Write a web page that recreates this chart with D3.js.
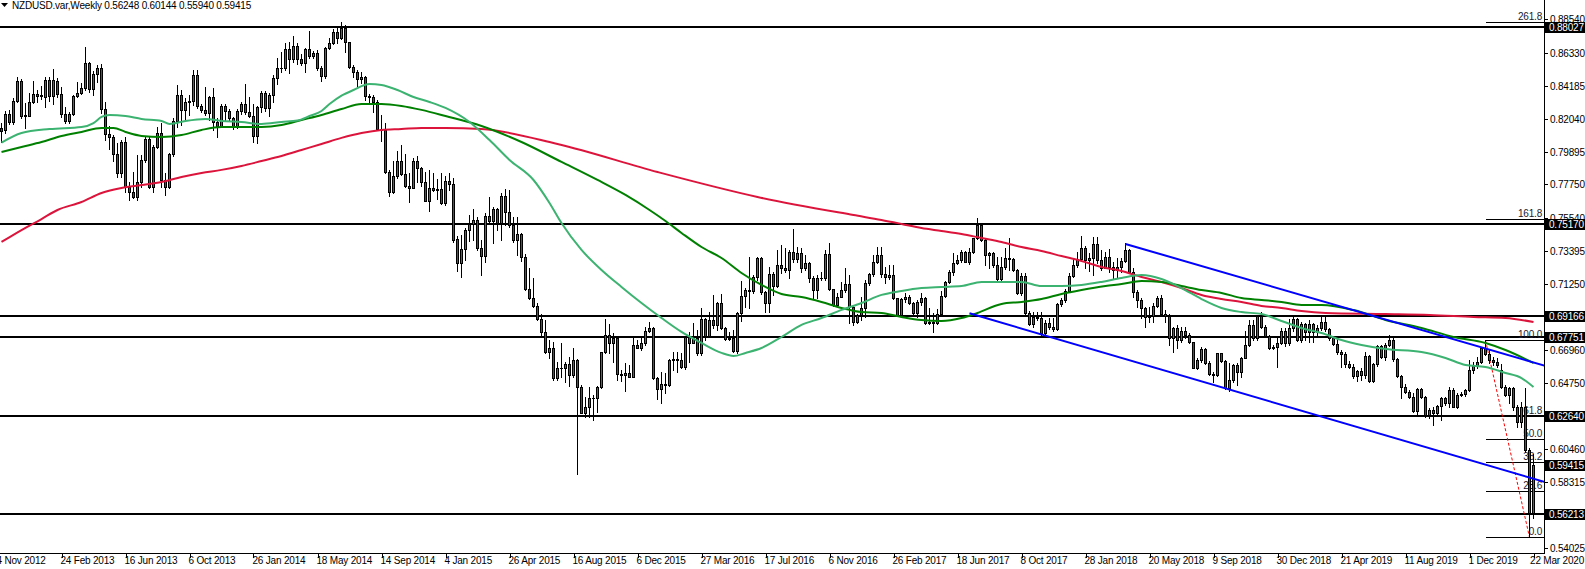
<!DOCTYPE html>
<html><head><meta charset="utf-8">
<script src="https://cdn.jsdelivr.net/npm/d3@7"></script>
<style>
body{margin:0;background:#fff;overflow:hidden}
svg{display:block}
text{font-family:"Liberation Sans",Arial,sans-serif;font-size:10px;letter-spacing:-0.2px}
</style>
</head><body>
<svg id="c" width="1585" height="569"></svg>
<script>
// ---------- DATA (weekly NZDUSD, bar 0 = week of 11 Nov 2012) ----------
const symbolTitle = "NZDUSD.var,Weekly";
const opens = [
0.8144,0.8131,0.8235,0.8185,0.8322,0.8451,0.8224,0.8224,0.8311,0.8363,
0.8355,0.8348,0.8457,0.8355,0.8451,0.8363,0.8233,0.8189,0.8233,0.8353,
0.8374,0.8403,0.8566,0.8396,0.8494,0.8533,0.8265,0.8102,0.8087,0.7974,
0.7847,0.8050,0.7760,0.7727,0.7695,0.7793,0.7934,0.8071,0.7760,0.8022,
0.8109,0.7804,0.7760,0.7974,0.8192,0.8359,0.8261,0.8316,0.8322,0.8490,
0.8287,0.8261,0.8240,0.8348,0.8185,0.8159,0.8290,0.8257,0.8207,0.8157,
0.8257,0.8299,0.8246,0.8225,0.8094,0.8279,0.8371,0.8272,0.8360,0.8473,
0.8534,0.8538,0.8660,0.8593,0.8680,0.8593,0.8571,0.8660,0.8617,0.8632,
0.8538,0.8486,0.8664,0.8697,0.8769,0.8730,0.8800,0.8704,0.8545,0.8508,
0.8462,0.8477,0.8351,0.8347,0.8312,0.8137,0.8131,0.7859,0.7724,0.7828,
0.7928,0.7846,0.7767,0.7754,0.7928,0.7885,0.7789,0.7669,0.7750,0.7741,
0.7745,0.7656,0.7795,0.7780,0.7416,0.7259,0.7353,0.7477,0.7517,0.7543,
0.7358,0.7307,0.7569,0.7538,0.7612,0.7521,0.7699,0.7597,0.7510,0.7412,
0.7451,0.7299,0.7090,0.7031,0.6981,0.6894,0.6813,0.6682,0.6704,0.6508,
0.6576,0.6573,0.6602,0.6530,0.6628,0.6454,0.6284,0.6319,0.6377,0.6382,
0.6454,0.6678,0.6791,0.6741,0.6769,0.6534,0.6530,0.6541,0.6519,0.6726,
0.6708,0.6737,0.6820,0.6837,0.6508,0.6436,0.6471,0.6466,0.6628,0.6634,
0.6628,0.6584,0.6780,0.6737,0.6769,0.6672,0.6896,0.6787,0.6889,0.6857,
0.6998,0.6835,0.6765,0.6769,0.6687,0.6933,0.7046,0.7085,0.7079,0.7172,
0.7297,0.7070,0.6998,0.7188,0.7114,0.7249,0.7227,0.7216,0.7331,0.7289,
0.7325,0.7227,0.7260,0.7166,0.7085,0.7166,0.7162,0.7318,0.7090,0.6987,
0.7042,0.7085,0.7122,0.6976,0.6874,0.6922,0.6966,0.7129,0.7188,0.7266,
0.7314,0.7188,0.7172,0.7183,0.7031,0.6922,0.7027,0.7042,0.6998,0.6933,
0.7009,0.7035,0.6867,0.6878,0.6867,0.6926,0.7048,0.7136,0.7205,0.7260,
0.7282,0.7331,0.7271,0.7336,0.7423,0.7510,0.7412,0.7314,0.7325,0.7249,
0.7157,0.7238,0.7292,0.7288,0.7216,0.7064,0.7179,0.6933,0.6861,0.6911,
0.6904,0.6802,0.6867,0.6845,0.6830,0.6992,0.7020,0.7079,0.7179,0.7249,
0.7288,0.7362,0.7282,0.7292,0.7384,0.7281,0.7231,0.7303,0.7238,0.7216,
0.7238,0.7275,0.7347,0.7205,0.7074,0.7020,0.6965,0.6911,0.6915,0.6981,
0.7035,0.6926,0.6918,0.6770,0.6835,0.6759,0.6817,0.6791,0.6743,0.6578,
0.6628,0.6700,0.6606,0.6534,0.6530,0.6672,0.6622,0.6443,0.6497,0.6595,
0.6552,0.6643,0.6726,0.6857,0.6770,0.6917,0.6845,0.6787,0.6708,0.6712,
0.6737,0.6817,0.6737,0.6835,0.6893,0.6759,0.6861,0.6813,0.6861,0.6813,
0.6839,0.6874,0.6828,0.6770,0.6733,0.6682,0.6667,0.6602,0.6584,0.6523,
0.6556,0.6527,0.6654,0.6493,0.6602,0.6719,0.6650,0.6726,0.6759,0.6632,
0.6523,0.6454,0.6421,0.6388,0.6297,0.6436,0.6388,0.6269,0.6301,0.6280,
0.6327,0.6377,0.6349,0.6432,0.6323,0.6399,0.6406,0.6432,0.6563,0.6589,
0.6617,0.6704,0.6667,0.6628,0.6617,0.6563,0.6454,0.6399,0.6443,0.6319,
0.6225,0.6323,0.6040,0.56248];
const highs = [
0.8174,0.8252,0.8261,0.8337,0.8479,0.8461,0.8309,0.8374,0.8453,0.8392,
0.8420,0.8479,0.8479,0.8527,0.8468,0.8413,0.8283,0.8246,0.8357,0.8446,
0.8440,0.8671,0.8573,0.8518,0.8555,0.8560,0.8315,0.8156,0.8098,0.8043,
0.8065,0.8087,0.7793,0.7858,0.7967,0.7967,0.8082,0.8087,0.8032,0.8152,
0.8174,0.7847,0.7982,0.8207,0.8425,0.8392,0.8338,0.8359,0.8523,0.8523,
0.8300,0.8409,0.8353,0.8403,0.8207,0.8300,0.8299,0.8266,0.8218,0.8266,
0.8312,0.8429,0.8344,0.8299,0.8290,0.8386,0.8386,0.8371,0.8490,0.8599,
0.8643,0.8697,0.8708,0.8745,0.8697,0.8625,0.8669,0.8778,0.8647,0.8654,
0.8551,0.8675,0.8730,0.8791,0.8795,0.8839,0.8817,0.8708,0.8556,0.8523,
0.8512,0.8486,0.8364,0.8360,0.8327,0.8229,0.8174,0.7870,0.7928,0.7994,
0.8033,0.7972,0.7848,0.7946,0.7961,0.7891,0.7854,0.7870,0.7848,0.7809,
0.7848,0.7830,0.7850,0.7820,0.7438,0.7445,0.7488,0.7575,0.7612,0.7564,
0.7412,0.7586,0.7695,0.7625,0.7619,0.7721,0.7743,0.7739,0.7560,0.7560,
0.7460,0.7321,0.7227,0.7162,0.6998,0.6928,0.6889,0.6759,0.6748,0.6617,
0.6737,0.6617,0.6650,0.6704,0.6632,0.6465,0.6388,0.6454,0.6399,0.6458,
0.6682,0.6894,0.6863,0.6802,0.6780,0.6563,0.6610,0.6595,0.6785,0.6759,
0.6780,0.6841,0.6878,0.6841,0.6519,0.6552,0.6540,0.6634,0.6678,0.6682,
0.6672,0.6787,0.6813,0.6867,0.6824,0.6966,0.6904,0.6944,0.7053,0.7005,
0.7057,0.6846,0.6813,0.6824,0.6940,0.7144,0.7101,0.7303,0.7183,0.7303,
0.7303,0.7079,0.7238,0.7205,0.7347,0.7379,0.7357,0.7347,0.7484,0.7366,
0.7362,0.7314,0.7271,0.7177,0.7183,0.7205,0.7347,0.7390,0.7092,0.7064,
0.7140,0.7231,0.7183,0.6987,0.6926,0.7042,0.7151,0.7194,0.7314,0.7368,
0.7368,0.7238,0.7249,0.7249,0.7035,0.7031,0.7064,0.7053,0.7009,0.7020,
0.7064,0.7042,0.6966,0.6933,0.6961,0.7079,0.7144,0.7216,0.7325,0.7314,
0.7347,0.7340,0.7358,0.7427,0.7553,0.7521,0.7420,0.7336,0.7336,0.7303,
0.7303,0.7362,0.7427,0.7297,0.7223,0.7194,0.7194,0.6948,0.6940,0.6944,
0.6940,0.6889,0.6900,0.6900,0.6998,0.7031,0.7092,0.7194,0.7288,0.7336,
0.7440,0.7375,0.7330,0.7433,0.7433,0.7347,0.7336,0.7353,0.7266,0.7292,
0.7292,0.7390,0.7353,0.7227,0.7085,0.7031,0.6976,0.6976,0.6998,0.7048,
0.7053,0.6955,0.6926,0.6846,0.6857,0.6846,0.6846,0.6802,0.6748,0.6639,
0.6715,0.6704,0.6621,0.6552,0.6676,0.6676,0.6628,0.6606,0.6600,0.6606,
0.6650,0.6817,0.6889,0.6889,0.6922,0.6944,0.6857,0.6791,0.6726,0.6769,
0.6835,0.6835,0.6896,0.6922,0.6900,0.6878,0.6867,0.6889,0.6867,0.6857,
0.6911,0.6911,0.6835,0.6781,0.6769,0.6693,0.6682,0.6624,0.6602,0.6562,
0.6573,0.6682,0.6660,0.6610,0.6726,0.6726,0.6737,0.6791,0.6785,0.6639,
0.6530,0.6471,0.6432,0.6410,0.6443,0.6443,0.6392,0.6312,0.6323,0.6334,
0.6388,0.6388,0.6454,0.6443,0.6410,0.6421,0.6438,0.6628,0.6617,0.6650,
0.6711,0.6756,0.6693,0.6650,0.6640,0.6600,0.6465,0.6454,0.6454,0.6334,
0.6356,0.6443,0.6051,0.60144];
const lows = [
0.8054,0.8109,0.8170,0.8170,0.8315,0.8206,0.8146,0.8222,0.8305,0.8315,
0.8333,0.8279,0.8322,0.8300,0.8348,0.8213,0.8178,0.8174,0.8226,0.8348,
0.8366,0.8392,0.8381,0.8359,0.8446,0.8244,0.8065,0.8004,0.7930,0.7825,
0.7825,0.7727,0.7673,0.7684,0.7673,0.7760,0.7923,0.7749,0.7727,0.8011,
0.7760,0.7706,0.7749,0.7960,0.8152,0.8163,0.8196,0.8228,0.8294,0.8272,
0.8250,0.8228,0.8196,0.8131,0.8083,0.8152,0.8190,0.8190,0.8137,0.8142,
0.8236,0.8236,0.8218,0.8055,0.8048,0.8251,0.8257,0.8225,0.8316,0.8429,
0.8512,0.8523,0.8506,0.8573,0.8560,0.8556,0.8512,0.8604,0.8604,0.8523,
0.8451,0.8473,0.8660,0.8691,0.8697,0.8723,0.8643,0.8534,0.8480,0.8414,
0.8436,0.8327,0.8312,0.8251,0.8131,0.8059,0.7848,0.7702,0.7717,0.7819,
0.7837,0.7761,0.7658,0.7750,0.7793,0.7765,0.7667,0.7602,0.7732,0.7678,
0.7645,0.7640,0.7740,0.7400,0.7212,0.7172,0.7281,0.7408,0.7412,0.7347,
0.7183,0.7270,0.7525,0.7390,0.7477,0.7412,0.7510,0.7499,0.7401,0.7314,
0.7277,0.7085,0.7024,0.6976,0.6889,0.6780,0.6671,0.6639,0.6497,0.6497,
0.6519,0.6486,0.6458,0.6519,0.5880,0.6279,0.6253,0.6253,0.6236,0.6290,
0.6443,0.6671,0.6671,0.6617,0.6497,0.6493,0.6428,0.6515,0.6515,0.6704,
0.6693,0.6726,0.6813,0.6502,0.6371,0.6345,0.6414,0.6460,0.6562,0.6552,
0.6573,0.6569,0.6617,0.6736,0.6661,0.6661,0.6759,0.6780,0.6835,0.6824,
0.6828,0.6759,0.6759,0.6682,0.6671,0.6883,0.6976,0.6966,0.7064,0.7151,
0.7057,0.6944,0.6944,0.7053,0.7107,0.7194,0.7205,0.7162,0.7271,0.7268,
0.7205,0.7216,0.7140,0.7027,0.7031,0.7151,0.7151,0.7085,0.6983,0.6983,
0.7038,0.7070,0.6867,0.6857,0.6867,0.6889,0.6911,0.7118,0.7179,0.7260,
0.7172,0.7129,0.7157,0.7027,0.6918,0.6911,0.7009,0.6992,0.6922,0.6911,
0.6987,0.6861,0.6861,0.6813,0.6861,0.6918,0.7042,0.7129,0.7183,0.7253,
0.7271,0.7266,0.7253,0.7330,0.7416,0.7405,0.7249,0.7227,0.7238,0.7151,
0.7151,0.7223,0.7216,0.7209,0.7057,0.7053,0.6926,0.6857,0.6846,0.6889,
0.6780,0.6787,0.6830,0.6817,0.6824,0.6983,0.7009,0.7070,0.7172,0.7238,
0.7275,0.7227,0.7210,0.7183,0.7260,0.7216,0.7227,0.7205,0.7162,0.7162,
0.7205,0.7266,0.7194,0.7042,0.6976,0.6900,0.6846,0.6878,0.6878,0.6976,
0.6922,0.6878,0.6726,0.6682,0.6704,0.6748,0.6770,0.6737,0.6573,0.6569,
0.6613,0.6600,0.6530,0.6486,0.6523,0.6617,0.6438,0.6425,0.6486,0.6464,
0.6519,0.6639,0.6722,0.6759,0.6759,0.6839,0.6780,0.6700,0.6700,0.6584,
0.6730,0.6722,0.6726,0.6817,0.6752,0.6748,0.6759,0.6748,0.6748,0.6780,
0.6824,0.6817,0.6759,0.6726,0.6667,0.6580,0.6580,0.6573,0.6508,0.6493,
0.6497,0.6508,0.6486,0.6486,0.6589,0.6639,0.6628,0.6719,0.6624,0.6515,
0.6377,0.6410,0.6377,0.6290,0.6269,0.6377,0.6258,0.6247,0.6204,0.6275,
0.6236,0.6334,0.6323,0.6319,0.6316,0.6392,0.6392,0.6428,0.6545,0.6573,
0.6606,0.6660,0.6606,0.6595,0.6580,0.6443,0.6392,0.6345,0.6301,0.6192,
0.6192,0.6029,0.5469,0.55940];
const closes = [
0.8126,0.8235,0.8185,0.8320,0.8451,0.8224,0.8228,0.8311,0.8363,0.8355,
0.8361,0.8457,0.8355,0.8457,0.8363,0.8233,0.8189,0.8233,0.8353,0.8374,
0.8403,0.8566,0.8396,0.8494,0.8533,0.8265,0.8102,0.8087,0.7974,0.7847,
0.8050,0.7760,0.7727,0.7695,0.7793,0.7934,0.8071,0.7760,0.8022,0.8109,
0.7804,0.7760,0.7974,0.8192,0.8359,0.8261,0.8316,0.8322,0.8490,0.8287,
0.8261,0.8240,0.8348,0.8185,0.8159,0.8287,0.8257,0.8207,0.8157,0.8257,
0.8299,0.8246,0.8225,0.8094,0.8279,0.8371,0.8272,0.8360,0.8473,0.8534,
0.8538,0.8660,0.8593,0.8680,0.8593,0.8571,0.8660,0.8617,0.8632,0.8538,
0.8486,0.8664,0.8697,0.8769,0.8730,0.8800,0.8704,0.8545,0.8508,0.8462,
0.8477,0.8351,0.8347,0.8312,0.8137,0.8131,0.7859,0.7724,0.7828,0.7928,
0.7846,0.7767,0.7754,0.7928,0.7885,0.7789,0.7669,0.7750,0.7741,0.7745,
0.7656,0.7795,0.7780,0.7412,0.7259,0.7353,0.7477,0.7517,0.7543,0.7358,
0.7307,0.7569,0.7538,0.7612,0.7521,0.7699,0.7597,0.7510,0.7412,0.7451,
0.7299,0.7090,0.7031,0.6981,0.6894,0.6813,0.6682,0.6704,0.6508,0.6573,
0.6573,0.6602,0.6530,0.6628,0.6454,0.6284,0.6319,0.6377,0.6382,0.6454,
0.6678,0.6791,0.6741,0.6769,0.6534,0.6530,0.6541,0.6519,0.6726,0.6708,
0.6737,0.6820,0.6837,0.6508,0.6436,0.6471,0.6466,0.6628,0.6634,0.6628,
0.6584,0.6780,0.6737,0.6769,0.6672,0.6896,0.6787,0.6889,0.6857,0.6998,
0.6835,0.6765,0.6769,0.6687,0.6933,0.7046,0.7085,0.7079,0.7172,0.7297,
0.7070,0.6998,0.7188,0.7114,0.7249,0.7227,0.7216,0.7331,0.7289,0.7325,
0.7227,0.7260,0.7166,0.7085,0.7166,0.7162,0.7318,0.7090,0.6987,0.7042,
0.7085,0.7122,0.6976,0.6874,0.6922,0.6966,0.7129,0.7188,0.7266,0.7314,
0.7188,0.7172,0.7183,0.7031,0.6922,0.7027,0.7042,0.6998,0.6933,0.7009,
0.7035,0.6867,0.6878,0.6867,0.6926,0.7048,0.7136,0.7205,0.7260,0.7282,
0.7331,0.7271,0.7336,0.7423,0.7510,0.7412,0.7314,0.7325,0.7249,0.7157,
0.7238,0.7292,0.7288,0.7216,0.7064,0.7179,0.6933,0.6861,0.6911,0.6904,
0.6802,0.6867,0.6845,0.6830,0.6992,0.7020,0.7079,0.7179,0.7249,0.7288,
0.7362,0.7282,0.7292,0.7384,0.7281,0.7231,0.7303,0.7238,0.7216,0.7238,
0.7275,0.7347,0.7205,0.7074,0.7020,0.6965,0.6911,0.6915,0.6981,0.7035,
0.6926,0.6918,0.6770,0.6835,0.6759,0.6817,0.6791,0.6743,0.6578,0.6628,
0.6700,0.6606,0.6534,0.6530,0.6672,0.6622,0.6443,0.6497,0.6595,0.6552,
0.6643,0.6726,0.6857,0.6770,0.6917,0.6845,0.6787,0.6708,0.6712,0.6737,
0.6817,0.6737,0.6835,0.6893,0.6759,0.6861,0.6813,0.6861,0.6813,0.6839,
0.6874,0.6828,0.6770,0.6733,0.6682,0.6667,0.6602,0.6584,0.6523,0.6556,
0.6527,0.6654,0.6493,0.6602,0.6719,0.6650,0.6726,0.6759,0.6632,0.6523,
0.6454,0.6421,0.6388,0.6297,0.6436,0.6388,0.6269,0.6301,0.6280,0.6327,
0.6377,0.6349,0.6432,0.6323,0.6399,0.6406,0.6432,0.6563,0.6589,0.6617,
0.6704,0.6667,0.6628,0.6617,0.6595,0.6454,0.6399,0.6443,0.6319,0.6225,
0.6323,0.6040,0.5625,0.59415];

// moving averages: [bar, price]
const maFast = [[0,0.8048],[5,0.8111],[12,0.8137],[20,0.8150],[23,0.8176],[25,0.8216],[27,0.8229],[31,0.8222],[35,0.8203],[40,0.8190],[42,0.8170],[46,0.8190],[51,0.8203],[55,0.8190],[60,0.8183],[65,0.8170],[70,0.8183],[74,0.8192],[77,0.8222],[80,0.8255],[82,0.8300],[85,0.8355],[88,0.8392],[92,0.8431],[95,0.8425],[99,0.8392],[103,0.8346],[107,0.8314],[111,0.8275],[117,0.8183],[122,0.8065],[127,0.7935],[133,0.7804],[137,0.7654],[140,0.7523],[145,0.7347],[150,0.7216],[155,0.7105],[160,0.7000],[165,0.6902],[170,0.6811],[175,0.6739],[180,0.6674],[183,0.6654],[186,0.6674],[190,0.6706],[195,0.6778],[200,0.6857],[205,0.6902],[210,0.6955],[215,0.7000],[220,0.7053],[225,0.7079],[230,0.7098],[235,0.7105],[240,0.7111],[245,0.7138],[250,0.7138],[255,0.7138],[260,0.7111],[265,0.7111],[270,0.7118],[275,0.7138],[280,0.7164],[285,0.7183],[290,0.7157],[295,0.7098],[300,0.7026],[305,0.6968],[310,0.6941],[315,0.6928],[320,0.6883],[325,0.6837],[330,0.6804],[335,0.6758],[340,0.6726],[346,0.6700],[355,0.6680],[361,0.6641],[366,0.6595],[371,0.6582],[376,0.6543],[380,0.6510],[383,0.6451]];
const maMid = [[0,0.7987],[5,0.8020],[10,0.8052],[15,0.8092],[20,0.8118],[25,0.8144],[28,0.8144],[31,0.8118],[35,0.8092],[40,0.8085],[45,0.8098],[50,0.8131],[55,0.8150],[65,0.8150],[70,0.8163],[75,0.8196],[80,0.8229],[85,0.8268],[90,0.8301],[95,0.8301],[100,0.8288],[105,0.8262],[111,0.8222],[120,0.8157],[130,0.8052],[140,0.7922],[149,0.7804],[156,0.7706],[162,0.7608],[166,0.7536],[170,0.7458],[175,0.7366],[180,0.7294],[185,0.7196],[190,0.7118],[195,0.7059],[200,0.7039],[205,0.7007],[210,0.6968],[215,0.6941],[220,0.6935],[225,0.6909],[230,0.6889],[235,0.6883],[240,0.6902],[244,0.6935],[250,0.6994],[255,0.7007],[260,0.7026],[265,0.7059],[270,0.7085],[276,0.7111],[280,0.7124],[285,0.7144],[290,0.7137],[295,0.7111],[300,0.7085],[305,0.7066],[310,0.7033],[315,0.7020],[320,0.7007],[325,0.6987],[330,0.6987],[338,0.6954],[346,0.6889],[355,0.6837],[363,0.6778],[371,0.6739],[376,0.6693],[381,0.6634],[383,0.6608]];
const maSlow = [[0,0.7399],[5,0.7477],[10,0.7549],[14,0.7608],[20,0.7660],[25,0.7719],[30,0.7752],[35,0.7771],[40,0.7791],[45,0.7824],[50,0.7850],[55,0.7870],[60,0.7896],[65,0.7928],[70,0.7961],[75,0.8000],[80,0.8039],[85,0.8079],[90,0.8111],[95,0.8131],[100,0.8137],[105,0.8144],[111,0.8144],[120,0.8137],[139,0.8039],[164,0.7856],[189,0.7693],[213,0.7575],[220,0.7543],[225,0.7517],[230,0.7490],[235,0.7471],[240,0.7451],[245,0.7425],[250,0.7399],[255,0.7366],[260,0.7340],[265,0.7307],[270,0.7275],[275,0.7235],[280,0.7209],[285,0.7170],[290,0.7137],[295,0.7098],[300,0.7053],[305,0.7026],[310,0.7007],[315,0.6981],[320,0.6968],[325,0.6948],[331,0.6935],[346,0.6928],[357,0.6922],[368,0.6909],[376,0.6902],[383,0.6876]];

// drawn objects
const levelLines = [0.88027, 0.75170, 0.69166, 0.67751, 0.62640, 0.56213];
const lastPrice = 0.59415;
const trendUpper = [[281,0.7386],[386,0.6589]];
const trendLower = [[242,0.6933],[386,0.5829]];
const fiboFromBar = 371, fiboHigh = 0.6756, fiboToBar = 382, fiboLow = 0.5469;
const fiboLevels = [0, 23.6, 38.2, 50, 61.8, 100, 161.8, 261.8];

// axes
const priceTicks = [0.88540,0.86330,0.84185,0.82040,0.79895,0.77750,0.75540,0.73395,0.71250,0.69105,0.66960,0.64750,0.62605,0.60460,0.58315,0.56170,0.54025];
const dateLabels = ["4 Nov 2012","24 Feb 2013","16 Jun 2013","6 Oct 2013","26 Jan 2014","18 May 2014","14 Sep 2014","4 Jan 2015","26 Apr 2015","16 Aug 2015","6 Dec 2015","27 Mar 2016","17 Jul 2016","6 Nov 2016","26 Feb 2017","18 Jun 2017","8 Oct 2017","28 Jan 2018","20 May 2018","9 Sep 2018","30 Dec 2018","21 Apr 2019","11 Aug 2019","1 Dec 2019","22 Mar 2020"];
const firstLabelBar = -1, barsPerLabel = 16;

// ---------- DRAW ----------
const W = 1585, plotR = 1544, plotB = 553;
const svg = d3.select("#c");
const x = d3.scaleLinear().domain([0, 383]).range([1.5, 1533.5]);
const y = d3.scaleLinear().domain([0.54025, 0.8854]).range([547.5, 19.3]);
const ry = p => Math.round(y(p));

svg.append("defs").append("clipPath").attr("id","clip")
  .append("rect").attr("x",0).attr("y",0).attr("width",plotR).attr("height",plotB);

// background objects: level lines + fibo
const bg = svg.append("g").attr("clip-path","url(#clip)").attr("shape-rendering","crispEdges");
bg.selectAll("rect.lvl").data(levelLines).join("rect").attr("class","lvl")
  .attr("x",0).attr("width",plotR).attr("y",d=>ry(d)-1).attr("height",2).attr("fill","#000");

const fr = fiboHigh - fiboLow;
const fg = svg.append("g");
fg.selectAll("line.fib").data(fiboLevels).join("line").attr("class","fib")
  .attr("shape-rendering","crispEdges")
  .attr("x1",Math.round(x(fiboFromBar))).attr("x2",plotR)
  .attr("y1",d=>ry(fiboLow+fr*d/100)+0.5).attr("y2",d=>ry(fiboLow+fr*d/100)+0.5)
  .attr("stroke","#000").attr("stroke-width",1);
fg.selectAll("text.fib").data(fiboLevels).join("text").attr("class","fib")
  .attr("x",1542).attr("y",d=>ry(fiboLow+fr*d/100)-2).attr("text-anchor","end")
  .attr("fill","#1a1a2e").text(d=>d.toFixed(1));
fg.append("line")
  .attr("x1",x(fiboFromBar)).attr("y1",y(fiboHigh)).attr("x2",x(fiboToBar)).attr("y2",y(fiboLow))
  .attr("stroke","#ff0000").attr("stroke-width",1).attr("stroke-dasharray","3,2");

// candles
const bars = d3.range(closes.length).map(i=>({i,o:opens[i],h:highs[i],l:lows[i],c:closes[i]}));
const cg = svg.append("g").attr("clip-path","url(#clip)").attr("shape-rendering","crispEdges");
const bull = "#1f8b34", bear = "#b3282d";
const cand = cg.selectAll("g").data(bars).join("g");
cand.append("rect").attr("x",d=>Math.round(x(d.i)-0.5)).attr("width",1)
  .attr("y",d=>ry(d.h)).attr("height",d=>Math.max(1,ry(d.l)-ry(d.h)+1)).attr("fill","#000");
cand.append("rect").attr("x",d=>Math.round(x(d.i)-1.5)).attr("width",3)
  .attr("y",d=>ry(Math.max(d.o,d.c)))
  .attr("height",d=>ry(Math.min(d.o,d.c))-ry(Math.max(d.o,d.c))+1).attr("fill","#000");
cand.filter(d=>ry(Math.min(d.o,d.c))-ry(Math.max(d.o,d.c))>1).append("rect")
  .attr("x",d=>Math.round(x(d.i)-0.5)).attr("width",1)
  .attr("y",d=>ry(Math.max(d.o,d.c))+1)
  .attr("height",d=>ry(Math.min(d.o,d.c))-ry(Math.max(d.o,d.c))-1)
  .attr("fill",d=>d.c>=d.o?bull:bear);

// moving averages
const mg = svg.append("g").attr("clip-path","url(#clip)");
const maLine = d3.line().x(d=>x(d[0])).y(d=>y(d[1])).curve(d3.curveMonotoneX);
[[maSlow,"#dc143c"],[maMid,"#008000"],[maFast,"#3cb371"]].forEach(([data,col])=>{
  mg.append("path").attr("d",maLine(data)).attr("fill","none").attr("stroke",col).attr("stroke-width",2);
});

// trend channel
const tg = svg.append("g").attr("clip-path","url(#clip)");
[trendUpper,trendLower].forEach(t=>{
  tg.append("line").attr("x1",x(t[0][0])).attr("y1",y(t[0][1]))
    .attr("x2",x(t[1][0])).attr("y2",y(t[1][1]))
    .attr("stroke","#0000ff").attr("stroke-width",2);
});

// right price axis
const ax = svg.append("g").attr("shape-rendering","crispEdges");
ax.append("line").attr("x1",plotR+0.5).attr("x2",plotR+0.5).attr("y1",0).attr("y2",plotB+1).attr("stroke","#000");
ax.selectAll("line.pt").data(priceTicks).join("line").attr("class","pt")
  .attr("x1",plotR+1).attr("x2",plotR+4).attr("y1",d=>ry(d)+0.5).attr("y2",d=>ry(d)+0.5).attr("stroke","#000");
svg.selectAll("text.pt").data(priceTicks).join("text").attr("class","pt")
  .attr("x",plotR+6).attr("y",d=>ry(d)+3.5).attr("fill","#000").text(d=>d.toFixed(5));
const boxes = levelLines.concat([lastPrice]);
const bx = svg.selectAll("g.box").data(boxes).join("g").attr("class","box");
bx.append("rect").attr("x",plotR+1).attr("y",d=>ry(d)-5).attr("width",W-plotR-1).attr("height",11)
  .attr("fill","#000").attr("shape-rendering","crispEdges");
bx.append("text").attr("x",plotR+5).attr("y",d=>ry(d)+4).attr("fill","#fff").text(d=>d.toFixed(5));

// bottom time axis
ax.append("line").attr("x1",0).attr("x2",plotR+1).attr("y1",plotB+0.5).attr("y2",plotB+0.5).attr("stroke","#000");
const dl = dateLabels.map((t,k)=>({t,bar:firstLabelBar+k*barsPerLabel}));
ax.selectAll("line.dt").data(dl).join("line").attr("class","dt")
  .attr("x1",d=>Math.round(x(d.bar))+0.5).attr("x2",d=>Math.round(x(d.bar))+0.5)
  .attr("y1",plotB+1).attr("y2",plotB+5).attr("stroke","#000");
svg.selectAll("text.dt").data(dl).join("text").attr("class","dt")
  .attr("x",d=>x(d.bar)-1).attr("y",plotB+11).attr("fill","#000").text(d=>d.t)
  .each(function(){
    const len = this.getComputedTextLength();
    const x0 = +this.getAttribute("x");
    if (x0 + len > W - 1) this.setAttribute("x", W - 1 - len);
  });

// header
svg.append("path").attr("d","M1,3 L8,3 L4.5,7 Z").attr("fill","#000");
svg.append("text").attr("x",12).attr("y",9).attr("fill","#000")
  .text(symbolTitle+"  "+[opens[383],highs[383],lows[383],closes[383]].map(v=>v.toFixed(5)).join(" "));
</script>
</body></html>
